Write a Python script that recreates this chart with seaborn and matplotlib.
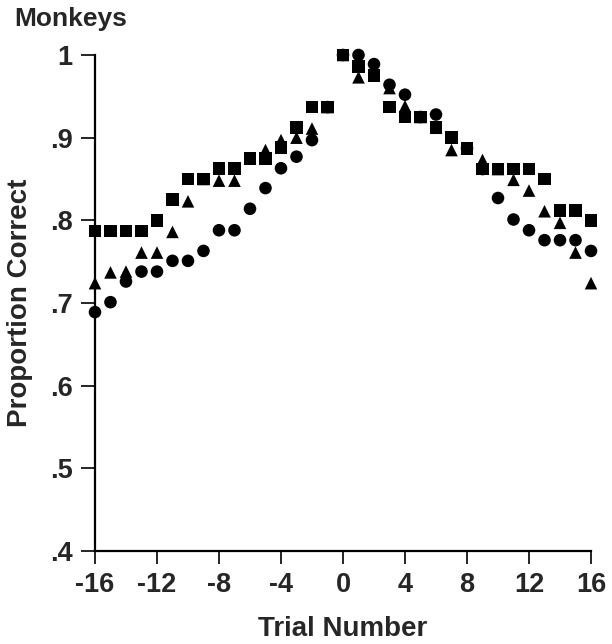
import pandas as pd
import matplotlib
matplotlib.use("Agg")
import matplotlib.pyplot as plt
import seaborn as sns

# trial numbers relative to the switch
trials = list(range(-16, 17))

# proportion correct, one list per marker type
circle_vals = [0.689, 0.701, 0.726, 0.738, 0.738, 0.751, 0.751, 0.763, 0.788, 0.788,
               0.814, 0.839, 0.863, 0.877, 0.897, 0.937, 1.000,
               1.000, 0.989, 0.964, 0.952, 0.925, 0.928, 0.900, 0.887, 0.862,
               0.827, 0.801, 0.788, 0.776, 0.776, 0.776, 0.763]
triangle_vals = [0.724, 0.737, 0.738, 0.761, 0.761, 0.786, 0.823, 0.850, 0.848, 0.848,
                 0.875, 0.885, 0.897, 0.900, 0.911, 0.937, 1.000,
                 0.973, 0.975, 0.960, 0.938, 0.925, 0.912, 0.885, 0.887, 0.873,
                 0.862, 0.849, 0.836, 0.811, 0.797, 0.761, 0.724]
square_vals = [0.787, 0.787, 0.787, 0.787, 0.800, 0.825, 0.850, 0.850, 0.863, 0.863,
               0.875, 0.875, 0.888, 0.912, 0.937, 0.937, 1.000,
               0.986, 0.975, 0.937, 0.925, 0.925, 0.913, 0.900, 0.887, 0.862,
               0.862, 0.862, 0.862, 0.850, 0.812, 0.812, 0.800]

x_ticks = [-16, -12, -8, -4, 0, 4, 8, 12, 16]
y_ticks = [0.4, 0.5, 0.6, 0.7, 0.8, 0.9, 1.0]
y_tick_labels = [".4", ".5", ".6", ".7", ".8", ".9", "1"]

df = pd.DataFrame({
    "trial": trials * 3,
    "correct": circle_vals + triangle_vals + square_vals,
    "group": ["circle"] * 33 + ["triangle"] * 33 + ["square"] * 33,
})

sns.set_style("ticks")
plt.rcParams["font.family"] = ["Liberation Sans", "DejaVu Sans"]
plt.rcParams["font.weight"] = "bold"

fig = plt.figure(figsize=(6.12, 6.44), dpi=100)
ax = fig.add_axes([0.1552, 0.1444, 0.8105, 0.7702])

sns.scatterplot(data=df, x="trial", y="correct", style="group",
                markers={"circle": "o", "triangle": "^", "square": "s"},
                color="black", s=82, linewidth=0, legend=False,
                clip_on=False, zorder=3, ax=ax)

ax.set_xlim(-16, 16)
ax.set_ylim(0.4, 1.0)
ax.set_xticks(x_ticks)
ax.set_xticklabels([str(t) for t in x_ticks])
ax.set_yticks(y_ticks)
ax.set_yticklabels(y_tick_labels)
ax.tick_params(axis="both", direction="out", width=1.2, color="black",
               labelsize=19.5, pad=6)
ax.tick_params(axis="y", length=10)
ax.tick_params(axis="x", length=9)
for lab in ax.get_xticklabels() + ax.get_yticklabels():
    lab.set_fontweight("bold")

sns.despine(ax=ax)
for side in ["left", "bottom"]:
    ax.spines[side].set_linewidth(1.6)
    ax.spines[side].set_color("black")

ax.set_xlabel("Trial Number", fontsize=20, fontweight="bold", labelpad=13)
ax.set_ylabel("Proportion Correct", fontsize=20, fontweight="bold", labelpad=12)
fig.text(0.023, 0.96, "Monkeys", fontsize=19, fontweight="bold", ha="left", va="baseline")

fig.savefig("out.png", dpi=100, facecolor="white")
